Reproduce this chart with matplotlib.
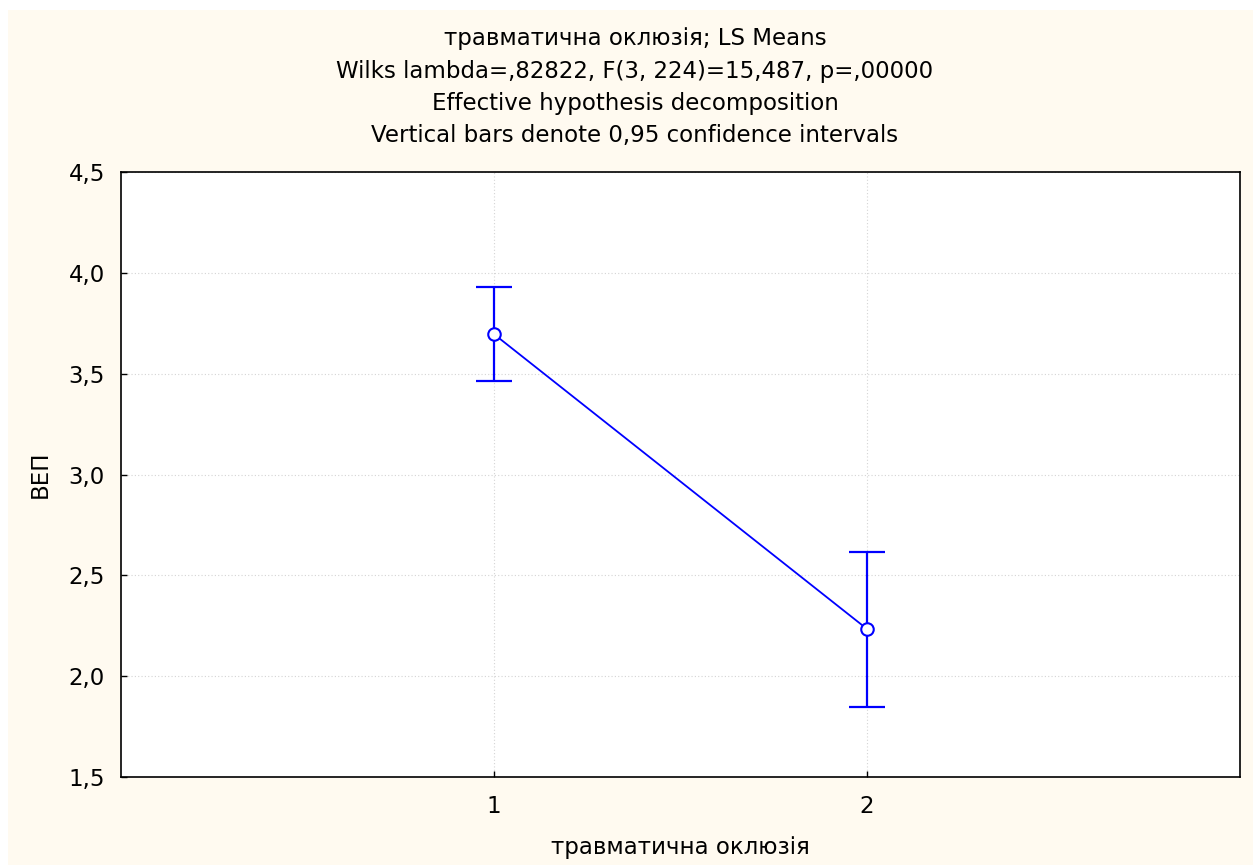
import matplotlib
matplotlib.use("Agg")
import matplotlib.pyplot as plt
from matplotlib.patches import Rectangle

# LS means with 0.95 confidence limits
groups = [1, 2]
means = [3.696, 2.234]
ci_low = [3.464, 1.847]
ci_high = [3.929, 2.616]

title_lines = [
    "травматична оклюзія; LS Means",
    "Wilks lambda=,82822, F(3, 224)=15,487, p=,00000",
    "Effective hypothesis decomposition",
    "Vertical bars denote 0,95 confidence intervals",
]
y_ticks = [1.5, 2.0, 2.5, 3.0, 3.5, 4.0, 4.5]

W, H = 1255, 865
plt.rcParams["font.family"] = ["DejaVu Sans"]
fs = 16.5

fig = plt.figure(figsize=(W / 100, H / 100), dpi=100, facecolor="white")

# cream panel behind everything
fig.patches.append(Rectangle((8 / W, 0), (1253 - 8) / W, 1 - 10 / H,
                             transform=fig.transFigure, facecolor="#fffaf0",
                             edgecolor="none", zorder=-10))

ax = fig.add_axes([121 / W, 1 - 777 / H, (1240 - 121) / W, (777 - 172) / H])
ax.set_facecolor("white")

err_lo = [m - lo for m, lo in zip(means, ci_low)]
err_hi = [hi - m for m, hi in zip(means, ci_high)]

ax.errorbar(groups, means, yerr=[err_lo, err_hi], fmt="none", ecolor="#0000ff",
            elinewidth=1.6, capsize=13, capthick=1.6, zorder=3)
ax.plot(groups, means, color="#0000ff", lw=1.3, marker="o", markersize=9,
        markerfacecolor="white", markeredgecolor="#0000ff",
        markeredgewidth=1.5, zorder=4)

ax.set_xlim(0, 3)
ax.set_ylim(1.5, 4.5)
ax.set_xticks(groups)
ax.set_xticklabels([str(g) for g in groups])
ax.set_yticks(y_ticks)
ax.set_yticklabels([f"{t:.1f}".replace(".", ",") for t in y_ticks])

ax.grid(True, color="#d4d4d4", linestyle=(0, (1, 2)), linewidth=0.8)
ax.set_axisbelow(True)

for sp in ax.spines.values():
    sp.set_color("black")
    sp.set_linewidth(1.2)

ax.tick_params(axis="both", direction="in", length=4, width=1, labelsize=fs,
               colors="black")
ax.tick_params(axis="y", pad=11.5)
ax.tick_params(axis="x", pad=13)

ax.set_xlabel("травматична оклюзія", fontsize=fs, labelpad=13)
ax.set_ylabel("ВЕП", fontsize=fs, labelpad=12)

baselines = [45.5, 77.7, 110, 142]
for line, b in zip(title_lines, baselines):
    fig.text(635 / W, 1 - b / H, line, ha="center", va="baseline", fontsize=fs)

fig.savefig("out.png", dpi=100, facecolor=fig.get_facecolor())
